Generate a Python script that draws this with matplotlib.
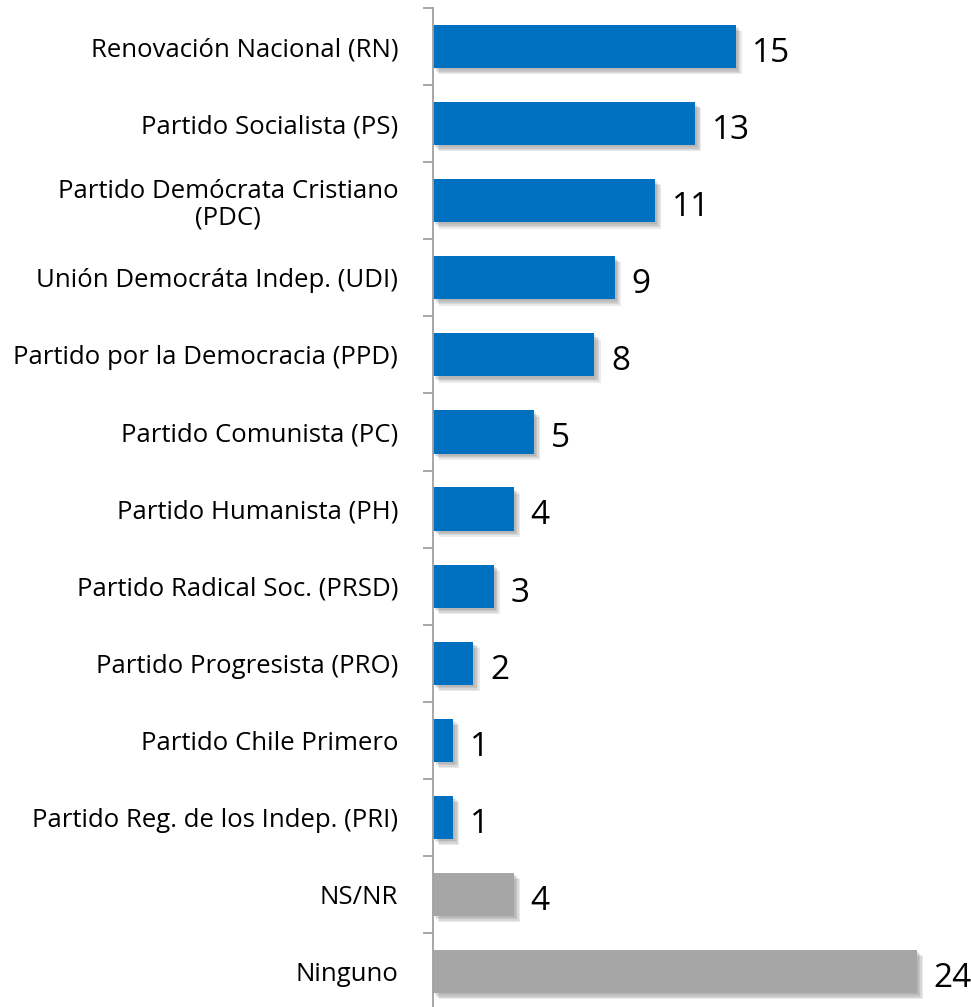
import matplotlib.pyplot as plt
import matplotlib.patheffects as pe
import numpy as np

# data, top to bottom
partidos = ['Renovación Nacional (RN)', 'Partido Socialista (PS)',
            'Partido Demócrata Cristiano\n(PDC)', 'Unión Democráta Indep. (UDI)',
            'Partido por la Democracia (PPD)', 'Partido Comunista (PC)',
            'Partido Humanista (PH)', 'Partido Radical Soc. (PRSD)',
            'Partido Progresista (PRO)', 'Partido Chile Primero',
            'Partido Reg. de los Indep. (PRI)', 'NS/NR', 'Ninguno']
valores = [15, 13, 11, 9, 8, 5, 4, 3, 2, 1, 1, 4, 24]
grupo = ['p'] * 11 + ['o', 'o']

colores = {'p': '#0070C0', 'o': '#A6A6A6'}

plt.rcParams['font.family'] = ['Open Sans', 'DejaVu Sans']

fig = plt.figure(figsize=(9.71, 10.07), dpi=100)
ax = fig.add_axes([433 / 971, -0.003, 0.5400, 0.995])

y = np.arange(len(valores))
bars = ax.barh(y, valores, height=0.56, color=[colores[g] for g in grupo])
# soft drop shadow
sombra = [pe.SimplePatchShadow(offset=(d, -d), alpha=0.10, shadow_rgbFace='#333333')
          for d in (1.5, 2.5, 3.5, 4.5)]
for b in bars:
    b.set_path_effects(sombra + [pe.Normal()])

for yi, v in zip(y, valores):
    ax.annotate(str(v), (v, yi), xytext=(12, -5), textcoords='offset points',
                va='center', ha='left', fontsize=24, color='black')

ax.set_ylim(len(valores) - 0.5, -0.5)
ax.set_xlim(0, 26)

ax.set_yticks(y)
ax.set_yticklabels(partidos, fontsize=18.5, multialignment='center', linespacing=1.1)
ax.tick_params(axis='y', which='major', length=0, pad=25)
ax.set_yticks(np.arange(len(valores) + 1) - 0.5, minor=True)
ax.tick_params(axis='y', which='minor', length=7, color='#A0A0A0', width=1.3)
ax.set_xticks([])

for s in ['top', 'right', 'bottom']:
    ax.spines[s].set_visible(False)
ax.spines['left'].set_color('#A0A0A0')
ax.spines['left'].set_linewidth(1.3)

fig.savefig('out.png', dpi=100)
